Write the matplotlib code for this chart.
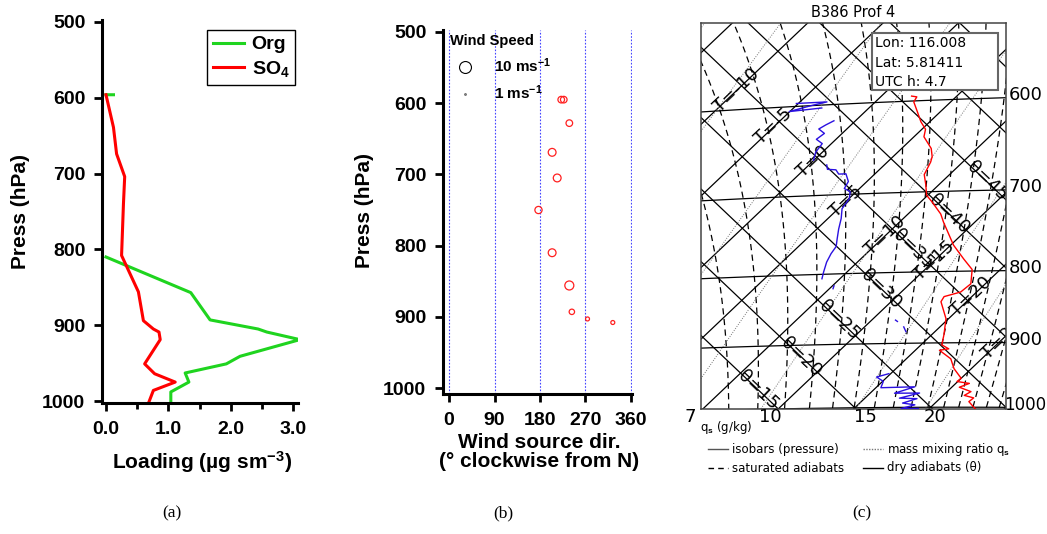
import numpy as np
import matplotlib.pyplot as plt
from matplotlib.lines import Line2D
from matplotlib.patches import Rectangle

plt.rcParams['font.family'] = ['Liberation Sans', 'DejaVu Sans']
plt.rcParams['mathtext.fontset'] = 'custom'
plt.rcParams['mathtext.rm'] = 'Liberation Sans:bold'
plt.rcParams['mathtext.it'] = 'Liberation Sans:bold'
plt.rcParams['mathtext.bf'] = 'Liberation Sans:bold'

W, H = 1047, 534

# ---- (a) aerosol loading profiles ----
org_load = [0.0, 0.12, np.nan, 0.0, 1.36, 1.67, 2.44, 2.58, 3.11, 2.15, 1.93, 1.27, 1.33, 1.04, 1.04]
org_press = [596, 596, np.nan, 810, 857, 893, 905, 909, 919, 941, 951, 963, 975, 988, 1001]
so4_load = [0.0, 0.12, 0.17, 0.30, 0.28, 0.25, 0.52, 0.60, 0.76, 0.85, 0.87, 0.62, 0.78, 1.11, 0.76, 0.69]
so4_press = [596, 639, 674, 704, 740, 808, 856, 894, 905, 909, 919, 951, 964, 975, 986, 1001]

# ---- (b) wind ----
wind_dir = [222, 227, 238, 204, 214, 177, 204, 238, 243, 274, 324]
wind_press = [595, 595, 628, 669, 705, 750, 810, 856, 893, 903, 908]
wind_speed = [5.5, 5.5, 5.5, 6.5, 6.5, 6.0, 6.5, 7.5, 4.5, 3.3, 3.3]

# ---- (c) tephigram sounding ----
temp_c = [2.0, 2.4, 2.55, 3.45, 4.42, 5.24, 5.66, 6.96, 7.59, 7.87, 8.32, 9.15, 9.91, 10.73, 12.17,
          12.92, 14.57, 15.19, 16.83, 18.13, 19.04, 18.94, 18.16, 18.31, 19.83, 20.81, 21.38, 22.12,
          21.6, 22.95, 23.85, 25.0, 24.95, 25.9, 25.5, 26.58, 26.4, 27.2, 27.14, 28.17]
temp_p = [595, 596, 601, 611, 622, 630, 638, 651, 660, 666, 680, 692, 704, 712, 727,
          737, 758, 766, 784, 798, 817, 828, 834, 841, 865, 888, 903, 909,
          911, 924, 939, 954, 959, 962, 968, 975, 981, 985, 991, 1004]
dew_c = [-5.13, -3.21, -4.0, -5.04, -3.13, np.nan,
         -1.43, -1.68, -1.86, -1.18, -1.3, -0.61, -0.45, -0.03, np.nan,
         1.18, 1.53, 2.13, 2.61, 3.07, 3.77, 3.99, 4.6, 5.02, 5.25, 5.88, 6.45, 7.02, 7.5, 7.66,
         7.96, 8.45, 8.81, np.nan,
         10.1, 10.24, np.nan, 16.58, 16.8, np.nan, 17.6, 18.08, np.nan,
         19.88, 19.3, 20.05, 20.33, 22.52, 21.62, 23.27, 22.29, 23.49, 22.84, 23.78, 23.13, 24.26]
dew_p = [597, 597, 600, 605, 603, np.nan,
         617, 621, 625, 630, 636, 641, 650, 659, np.nan,
         665, 670, 671, 676, 676, 685, 693, 697, 705, 717, 729, 742, 754, 764, 773,
         784, 797, 806, np.nan,
         816, 820, np.nan, 866, 868, np.nan, 876, 883, np.nan,
         946, 951, 958, 968, 967, 977, 977, 985, 986, 993, 996, 1002, 1002]

isotherms = np.arange(-50, 50, 5)
isentropes = np.arange(-30, 85, 5)
isobars = [600, 700, 800, 900, 1000]
mix_ratios = [2, 3, 5, 7, 10, 15, 20, 30]
qs_labels = [7, 10, 15, 20]
theta_e_levels = np.arange(292.5, 420, 5.0)
t_lab = [-10, -5, 0, 5, 10, 15, 20, 25]
t_lab_p = [580, 620, 660, 708, 752, 785, 835, 895]
th_lab = [15, 20, 25, 30, 35, 40, 45]
th_lab_p = [968, 918, 864, 822, 770, 727, 690]

K = 300.0
KAPPA = 0.286


def tephi(T, p):
    T = np.asarray(T, float)
    p = np.asarray(p, float)
    th = (T + 273.15) * (1000.0 / p) ** KAPPA
    s = K * np.log(th / 273.15)
    return T + s, s - T


def sat_mix(T, p):
    e = 6.112 * np.exp(17.67 * T / (T + 243.5))
    return 0.622 * e / (p - e)


def theta_e(T, p=1000.0):
    Tk = T + 273.15
    return Tk * (1000.0 / p) ** KAPPA * np.exp(2.5e6 * sat_mix(T, p) / (1004.0 * Tk))


def moist_rate(T, p):
    Tk = T + 273.15
    w = sat_mix(T, p)
    return (287.0 * Tk + 2.5e6 * w) / (p * (1004.0 + 2.5e6 ** 2 * w * 0.622 / (287.0 * Tk ** 2)))


def moist_adiabat(T0, plev):
    T = [T0]
    for i in range(1, len(plev)):
        p = plev[i - 1]
        dp = plev[i] - p
        k1 = moist_rate(T[-1], p)
        k2 = moist_rate(T[-1] + k1 * dp, p + dp)
        T.append(T[-1] + 0.5 * (k1 + k2) * dp)
    return np.array(T)


def dewpoint_for(q, p):
    e = q * p / (622.0 + q)
    a = np.log(e / 6.112)
    return 243.5 * a / (17.67 - a)


fig = plt.figure(figsize=(W / 100, H / 100), dpi=100)


def style_axis(ax):
    for side in ['top', 'right']:
        ax.spines[side].set_visible(False)
    for side in ['left', 'bottom']:
        ax.spines[side].set_linewidth(2.2)
    ax.tick_params(direction='out', length=6, width=2, labelsize=14)
    ax.tick_params(axis='y', pad=6)
    ax.tick_params(axis='x', pad=7)
    for lab in ax.get_xticklabels() + ax.get_yticklabels():
        lab.set_fontweight('bold')


# panel (a)
ax1 = fig.add_axes([102 / W, 1 - 403 / H, 196 / W, 383 / H])
ax1.plot(org_load, org_press, color='#1fd41f', lw=2.2, label='Org')
ax1.plot(so4_load, so4_press, color='#ff0000', lw=2.2, label='SO$_4$')
ax1.set_xlim(-0.064, 3.08)
ax1.set_ylim(1002.6, 497.4)
ax1.set_xticks([0, 1, 2, 3])
ax1.set_xticklabels(['0.0', '1.0', '2.0', '3.0'])
ax1.set_xticks([0.5, 1.5, 2.5], minor=True)
ax1.set_yticks([500, 600, 700, 800, 900, 1000])
style_axis(ax1)
ax1.tick_params(axis='x', which='minor', direction='out', length=4, width=2)
ax1.text(-0.418, 0.5, 'Press (hPa)', transform=ax1.transAxes, rotation=90,
         ha='center', va='center', fontsize=15, fontweight='bold')
ax1.text(0.51, -0.154, 'Loading (µg sm$^{-3}$)', transform=ax1.transAxes,
         ha='center', va='center', fontsize=15, fontweight='bold')
leg = ax1.legend(loc='upper left', bbox_to_anchor=(207 / W, 1 - 30 / H), bbox_transform=fig.transFigure,
                 borderaxespad=0, fancybox=False, edgecolor='black', framealpha=1,
                 prop={'weight': 'bold', 'size': 14}, handlelength=1.6, handletextpad=0.4,
                 labelspacing=0.3, borderpad=0.3)
leg.get_frame().set_linewidth(1.0)

# panel (b)
ax2 = fig.add_axes([443 / W, 1 - 394 / H, 189 / W, 364 / H])
for d in [0, 90, 180, 270, 360]:
    ax2.axvline(d, color='#4444ff', lw=0.8, ls=(0, (1.5, 1.5)), zorder=1)
sizes = [(0.864 * v) ** 2 for v in wind_speed]
ax2.scatter(wind_dir, wind_press, s=sizes, facecolors='none', edgecolors='#ff2020', linewidths=0.9, zorder=3)
ax2.set_xlim(-11.9, 362)
ax2.set_ylim(1008.4, 497.2)
ax2.set_xticks([0, 90, 180, 270, 360])
ax2.set_yticks([500, 600, 700, 800, 900, 1000])
style_axis(ax2)
ax2.text(-0.413, 0.505, 'Press (hPa)', transform=ax2.transAxes, rotation=90,
         ha='center', va='center', fontsize=15, fontweight='bold')
ax2.text(0.508, -0.159, 'Wind source dir.\n(° clockwise from N)', transform=ax2.transAxes,
         ha='center', va='center', fontsize=15, fontweight='bold', linespacing=1.05)
handles = [Line2D([], [], ls='', marker='o', mfc='none', mec='black', mew=0.8, ms=8.6),
           Line2D([], [], ls='', marker='o', mfc='none', mec='0.4', mew=0.8, ms=1.2)]
leg2 = ax2.legend(handles, ['10 ms$^{-1}$', '1 ms$^{-1}$'], title='Wind Speed', loc='upper left',
                  bbox_to_anchor=(447 / W, 1 - 31 / H), bbox_transform=fig.transFigure, frameon=False,
                  prop={'weight': 'bold', 'size': 11}, title_fontproperties={'weight': 'bold', 'size': 10.5},
                  borderaxespad=0, handletextpad=0.9, labelspacing=0.55, alignment='left', borderpad=0.2)

# panel (c) tephigram
ax3 = fig.add_axes([701 / W, 1 - 409 / H, 305 / W, 386 / H])
x0, y0a = tephi(10, 1000)
x1, y0b = tephi(30, 1000)
y0 = 0.5 * (y0a + y0b)
ppu = 305.0 / (x1 - x0)
y1 = y0 + 386.0 / (0.95 * ppu)
ax3.set_xlim(x0, x1)
ax3.set_ylim(y0, y1)
ax3.set_xticks([])
ax3.set_yticks([])
for sp in ax3.spines.values():
    sp.set_color('#444444')
    sp.set_linewidth(1.1)

pp = np.array([350.0, 1100.0])
for t in isotherms:
    X, Y = tephi([t, t], pp)
    ax3.plot(X, Y, color='black', lw=0.9, zorder=1)
for th in isentropes:
    Tl = (th + 273.15) * (pp / 1000.0) ** KAPPA - 273.15
    X, Y = tephi(Tl, pp)
    ax3.plot(X, Y, color='black', lw=0.9, zorder=1)
Tline = np.linspace(-80, 60, 400)
for p in isobars:
    X, Y = tephi(Tline, np.full_like(Tline, p))
    ax3.plot(X, Y, color='black', lw=0.9, zorder=1)

Tgrid = np.linspace(-40, 40, 801)
the_grid = theta_e(Tgrid)
plev = np.arange(1000.0, 440.0, -5.0)
for te in theta_e_levels:
    T0 = np.interp(te, the_grid, Tgrid)
    Tm = moist_adiabat(T0, plev)
    X, Y = tephi(Tm, plev)
    ax3.plot(X, Y, color='black', lw=0.9, ls=(0, (5, 3.5)), zorder=1)

pq = np.linspace(1050, 430, 200)
q_cross = {}
for q in mix_ratios:
    Td = dewpoint_for(q, pq)
    X, Y = tephi(Td, pq)
    ax3.plot(X, Y, color='#777777', lw=0.7, ls=(0, (1, 1.5)), zorder=1)
    q_cross[q] = np.interp(y0, Y, X)

ax3.plot(*tephi(temp_c, temp_p), color='red', lw=1.0, zorder=3)
ax3.plot(*tephi(dew_c, dew_p), color='#2a10e0', lw=1.0, zorder=3)

for t, p in zip(t_lab, t_lab_p):
    X, Y = tephi(t, p)
    ax3.text(X, Y, f'T={t}', rotation=43.5, rotation_mode='anchor', ha='center', va='center',
             fontsize=13, family='DejaVu Sans', clip_on=True, zorder=2)
for th, p in zip(th_lab, th_lab_p):
    Tl = (th + 273.15) * (p / 1000.0) ** KAPPA - 273.15
    X, Y = tephi(Tl, p)
    ax3.text(X, Y, f'θ={th}', rotation=-43.5, rotation_mode='anchor', ha='center', va='center',
             fontsize=13, family='DejaVu Sans', clip_on=True, zorder=2)

for p in isobars:
    X, Y = tephi(Tline, np.full_like(Tline, p))
    yr = np.interp(x1, X, Y)
    fs, dx = (13, 2) if p < 1000 else (12, -1.5)
    ax3.annotate(str(p), (x1, yr), xytext=(dx, 2), textcoords='offset points', ha='left', va='center',
                 fontsize=fs, family='DejaVu Sans', annotation_clip=False)
for q in qs_labels:
    ax3.annotate(str(q), (q_cross[q], y0), xytext=(7, -6), textcoords='offset points', ha='center',
                 va='center', fontsize=13, family='DejaVu Sans', annotation_clip=False)

ax3.set_title('B386 Prof 4', fontsize=10.5, family='DejaVu Sans', pad=4)
ax3.add_patch(Rectangle((0.561, 0.826), 0.413, 0.148, transform=ax3.transAxes, facecolor='white',
                        edgecolor='#666666', lw=1.5, zorder=5))
for yy, txt in zip([0.948, 0.896, 0.847], ['Lon: 116.008', 'Lat: 5.81411', 'UTC h: 4.7']):
    ax3.text(0.572, yy, txt, transform=ax3.transAxes, fontsize=10, family='DejaVu Sans',
             va='center', ha='left', zorder=6)

# legend under the tephigram
fig.text(700 / W, 1 - 427 / H, 'q$_s$ (g/kg)', fontsize=8.5, family='DejaVu Sans', va='center')
leg_rows = [(708, 449, '-', '#555555', 'isobars (pressure)'),
            (863, 449, (0, (1, 1)), '#777777', 'mass mixing ratio q$_s$'),
            (708, 468, (0, (4, 3)), 'black', 'saturated adiabats'),
            (863, 468, '-', 'black', 'dry adiabats (θ)')]
for xs, ys, ls, col, txt in leg_rows:
    fig.add_artist(Line2D([xs / W, (xs + 20) / W], [1 - ys / H, 1 - ys / H], color=col, lw=1.0, ls=ls))
    fig.text((xs + 24) / W, 1 - ys / H, txt, fontsize=8.5, family='DejaVu Sans', va='center')

for xc, lab in zip([172, 503, 862], ['(a)', '(b)', '(c)']):
    fig.text(xc / W, 1 - 513 / H, lab, fontsize=12.5, family='Liberation Serif', ha='center', va='center')

fig.savefig('out.png', dpi=100)
